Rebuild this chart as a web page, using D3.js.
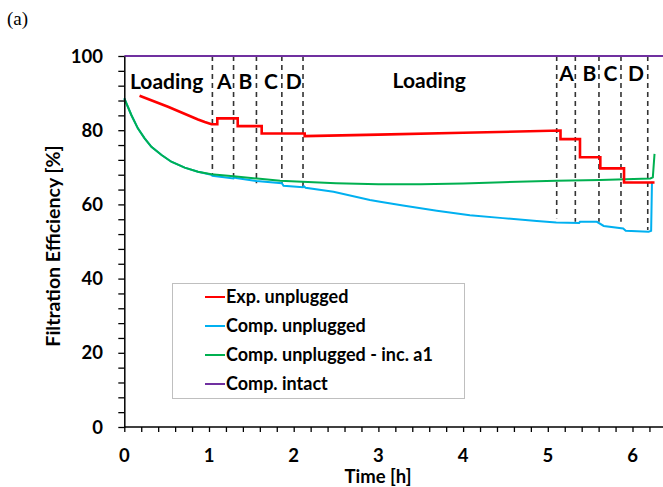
<!DOCTYPE html>
<html>
<head>
<meta charset="utf-8">
<script src="https://cdn.jsdelivr.net/npm/d3@7"></script>
<style>
  body { margin: 0; background: #fff; }
  svg { display: block; }
</style>
</head>
<body>
<div id="graph1"></div>
<script>
// data (time in h, efficiency in %)
var red_t = [0.18, 0.516, 0.87, 0.95, 1.03, 1.098, 1.098, 1.339, 1.339, 1.622, 1.622, 2.13, 2.13, 3.0, 4.0, 5.15, 5.15, 5.38, 5.38, 5.62, 5.62, 5.9, 5.9, 6.26];
var red_v = [89.3, 86.3, 82.9, 82.2, 81.6, 81.6, 83.2, 83.2, 81.1, 81.1, 79.1, 79.1, 78.4, 78.8, 79.3, 79.9, 77.6, 77.6, 72.7, 72.7, 69.7, 69.7, 65.9, 65.9];

var blue_t = [0, 0.083, 0.16, 0.24, 0.32, 0.44, 0.555, 0.713, 0.87, 1.027, 1.04, 1.29, 1.30, 1.32, 1.56, 1.86, 1.88, 2.11, 2.12, 2.14, 2.47, 2.9, 3.02, 3.29, 3.69, 4.08, 4.47, 4.87, 5.1, 5.37, 5.38, 5.58, 5.66, 5.89, 5.92, 6.19, 6.22, 6.23];
var blue_v = [88.6, 84.1, 80.5, 77.8, 75.5, 73.3, 71.5, 69.9, 68.8, 68.0, 67.7, 67.0, 67.3, 67.1, 66.3, 65.7, 65.0, 64.6, 64.9, 64.5, 63.4, 61.2, 60.7, 59.7, 58.3, 57.1, 56.3, 55.5, 55.1, 55.0, 55.3, 55.3, 54.2, 53.5, 52.9, 52.6, 52.9, 66.1];

var green_t = [0, 0.083, 0.16, 0.24, 0.32, 0.44, 0.555, 0.713, 0.87, 1.027, 1.29, 1.6, 1.84, 2.1, 2.5, 3.0, 3.5, 4.0, 4.47, 5.1, 5.62, 6.21, 6.24, 6.26];
var green_v = [88.6, 84.1, 80.5, 77.8, 75.5, 73.3, 71.5, 69.9, 68.8, 68.1, 67.6, 66.9, 66.4, 66.1, 65.7, 65.45, 65.4, 65.6, 66.0, 66.4, 66.6, 67.0, 67.3, 73.6];

var intact_t = [0, 6.4];
var intact_v = [100, 100];

// dashed separators: x position and where they stop at the bottom
var sep_t = [1.04, 1.29, 1.56, 1.86, 2.11, 5.105, 5.325, 5.604, 5.864, 6.18];
var sep_bottom = [67.9, 67.0, 65.7, 65.7, 64.3, 56.3, 55.3, 55.3, 55.3, 53.1];

// phase labels
var phase_text = ["Loading", "A", "B", "C", "D", "Loading", "A", "B", "C", "D"];
var phase_t = [0.5, 1.18, 1.43, 1.73, 2.0, 3.6, 5.22, 5.49, 5.74, 6.04];
var phase_v = [91.2, 91.2, 91.2, 91.2, 91.2, 91.5, 93.2, 93.2, 93.2, 93.2];

var legend_names = ["Exp. unplugged", "Comp. unplugged", "Comp. unplugged - inc. a1", "Comp. intact"];
var legend_colors = ["#ff0000", "#00b0f0", "#00b050", "#7030a0"];

var x_ticks = [0, 1, 2, 3, 4, 5, 6];
var y_ticks = [0, 20, 40, 60, 80, 100];

var width = 663, height = 487;
var boldFont = "Lato, 'Open Sans', sans-serif";

var svg = d3.select("#graph1")
  .append("svg")
    .attr("width", width)
    .attr("height", height);

var x = d3.scaleLinear().domain([0, 6]).range([124.3, 632.5]);
var y = d3.scaleLinear().domain([0, 100]).range([427, 56]);

var zip = function(ts, vs) {
  return ts.map(function(t, i) { return {t: t, v: vs[i]}; });
};

var line = d3.line()
  .x(function(d) { return x(d.t); })
  .y(function(d) { return y(d.v); });

// panel letter
svg.append("text")
  .attr("x", 7)
  .attr("y", 25)
  .style("font-family", "'Liberation Serif', 'Times New Roman', serif")
  .style("font-size", "19px")
  .text("(a)");

// dashed separators
svg.append("g")
  .selectAll("line")
  .data(zip(sep_t, sep_bottom))
  .enter()
  .append("line")
    .attr("x1", function(d) { return x(d.t); })
    .attr("x2", function(d) { return x(d.t); })
    .attr("y1", y(100))
    .attr("y2", function(d) { return y(d.v); })
    .attr("stroke", "#333")
    .attr("stroke-width", 1.6)
    .attr("stroke-dasharray", "5,4");

// series, drawn back to front
var series = [
  {data: zip(blue_t, blue_v), color: "#00b0f0", w: 2},
  {data: zip(green_t, green_v), color: "#00b050", w: 2},
  {data: zip(red_t, red_v), color: "#ff0000", w: 2.6},
  {data: zip(intact_t, intact_v), color: "#7030a0", w: 2}
];
svg.append("g")
  .selectAll("path")
  .data(series)
  .enter()
  .append("path")
    .attr("fill", "none")
    .attr("stroke", function(d) { return d.color; })
    .attr("stroke-width", function(d) { return d.w; })
    .attr("d", function(d) { return line(d.data); });

// phase labels
svg.append("g")
  .selectAll("text")
  .data(phase_text)
  .enter()
  .append("text")
    .attr("x", function(d, i) { return x(phase_t[i]); })
    .attr("y", function(d, i) { return y(phase_v[i]); })
    .attr("text-anchor", "middle")
    .style("font-family", boldFont)
    .style("font-weight", "bold")
    .style("font-size", "21px")
    .text(function(d) { return d; });

// axes
var xAxis = svg.append("g").attr("transform", "translate(0," + y(0) + ")");
xAxis.call(d3.axisBottom(x).tickValues(d3.range(0, 6.3, 0.2)).tickSize(5).tickFormat(""));
xAxis.select(".domain").attr("d", "M" + x(0) + ",0H" + width);
xAxis.selectAll(".tick line").attr("stroke-width", 1.3);
xAxis.select(".domain").attr("stroke-width", 1.5);

var yAxis = svg.append("g").attr("transform", "translate(" + x(0) + ",0)");
yAxis.call(d3.axisLeft(y).tickValues(d3.range(0, 101, 4)).tickSize(6).tickFormat("").tickSizeOuter(0));
yAxis.selectAll(".tick line").attr("stroke-width", 1.3);
yAxis.select(".domain").attr("stroke-width", 1.5);

// tick labels
svg.append("g")
  .selectAll("text")
  .data(x_ticks)
  .enter()
  .append("text")
    .attr("x", function(d) { return x(d); })
    .attr("y", 462)
    .attr("text-anchor", "middle")
    .style("font-family", boldFont)
    .style("font-weight", "bold")
    .style("font-size", "18.5px")
    .text(function(d) { return d; });

svg.append("g")
  .selectAll("text")
  .data(y_ticks)
  .enter()
  .append("text")
    .attr("x", 103)
    .attr("y", function(d) { return y(d) + 6.5; })
    .attr("text-anchor", "end")
    .style("font-family", boldFont)
    .style("font-weight", "bold")
    .style("font-size", "18.5px")
    .text(function(d) { return d; });

// axis titles
svg.append("text")
  .attr("x", 378)
  .attr("y", 483)
  .attr("text-anchor", "middle")
  .style("font-family", boldFont)
  .style("font-weight", "bold")
  .style("font-size", "18.5px")
  .text("Time [h]");

svg.append("text")
  .attr("transform", "translate(60,246)rotate(-90)")
  .attr("text-anchor", "middle")
  .style("font-family", boldFont)
  .style("font-weight", "bold")
  .style("font-size", "19.5px")
  .text("Filtration Efficiency [%]");

// legend
var legend = svg.append("g");
legend.append("rect")
  .attr("x", 172.5)
  .attr("y", 283.5)
  .attr("width", 292)
  .attr("height", 115)
  .attr("fill", "#fff")
  .attr("stroke", "#bfbfbf")
  .attr("stroke-width", 1);

var rows = legend.selectAll("g.row")
  .data(legend_names)
  .enter()
  .append("g")
    .attr("class", "row")
    .attr("transform", function(d, i) { return "translate(0," + (297 + i * 29) + ")"; });
rows.append("line")
  .attr("x1", 205).attr("x2", 225)
  .attr("stroke", function(d, i) { return legend_colors[i]; })
  .attr("stroke-width", 2);
rows.append("text")
  .attr("x", 226)
  .attr("y", 6)
  .style("font-family", boldFont)
  .style("font-weight", "bold")
  .style("font-size", "18px")
  .text(function(d) { return d; });
</script>
</body>
</html>
